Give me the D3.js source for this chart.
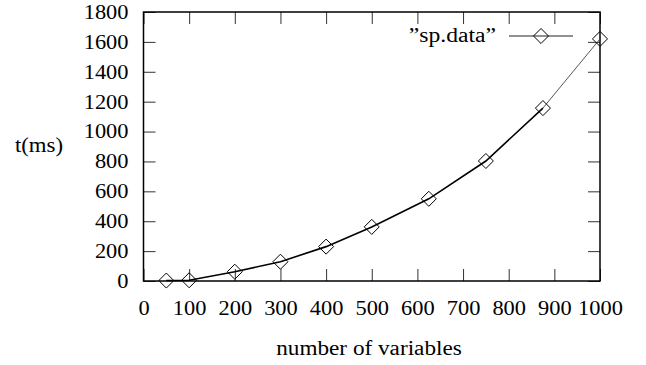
<!DOCTYPE html>
<meta charset="utf-8">
<title>sp.data timing</title>
<script src="https://d3js.org/d3.v7.min.js"></script>
<style>
  body { margin: 0; background: #fff; }
  svg text { font-family: "Liberation Serif", "Times New Roman", serif; fill: #000; }
</style>
<body>
<svg id="chart" width="646" height="365"></svg>
<script>
// values
const numVars = [50, 100, 200, 300, 400, 500, 625, 750, 875, 1000]
const timeMs = [3, 5, 62, 129, 230, 362, 550, 803, 1157, 1620]
const xTicks = [0, 100, 200, 300, 400, 500, 600, 700, 800, 900, 1000]
const yTicks = [0, 200, 400, 600, 800, 1000, 1200, 1400, 1600, 1800]
const seriesName = "\u201dsp.data\u201d"

const svg = d3.select("#chart")
const plotLeft = 143.5, plotRight = 600, plotTop = 12, plotBottom = 281
const fontSize = 20
const widen = 1.12   // the original text is a bit wider than Times

const x = d3.scaleLinear().domain([0, 1000]).range([plotLeft, plotRight])
const y = d3.scaleLinear().domain([0, 1800]).range([plotBottom, plotTop])

const data = numVars.map((v, i) => ({ n: v, t: timeMs[i] }))

function stretch(sel, k) {
    sel.each(function () {
        let w = this.getComputedTextLength()
        d3.select(this).attr("textLength", w * (k || widen)).attr("lengthAdjust", "spacingAndGlyphs")
    })
}

function styleAxis(g, labels) {
    g.attr("font-family", "Liberation Serif").attr("font-size", fontSize)
    g.select(".domain").remove()
    g.selectAll(".tick line").attr("stroke", "#333").attr("stroke-width", 1)
    if (!labels) g.selectAll("text").remove()
    else stretch(g.selectAll("text"))
}

// bottom and top
svg.append("g").attr("transform", `translate(0,${plotBottom})`)
    .call(d3.axisBottom(x).tickValues(xTicks).tickFormat(d3.format("d")).tickSize(-12).tickPadding(20))
    .call(g => styleAxis(g, true))
svg.append("g").attr("transform", `translate(0,${plotTop})`)
    .call(d3.axisTop(x).tickValues(xTicks).tickSize(-12))
    .call(g => styleAxis(g, false))

// left and right
svg.append("g").attr("transform", `translate(${plotLeft},0)`)
    .call(d3.axisLeft(y).tickValues(yTicks).tickFormat(d3.format("d")).tickSize(-12).tickPadding(15))
    .call(g => styleAxis(g, true))
svg.append("g").attr("transform", `translate(${plotRight},0)`)
    .call(d3.axisRight(y).tickValues(yTicks).tickSize(-12))
    .call(g => styleAxis(g, false))

// frame
svg.append("rect")
    .attr("x", plotLeft).attr("y", plotTop)
    .attr("width", plotRight - plotLeft).attr("height", plotBottom - plotTop)
    .attr("fill", "none").attr("stroke", "#000").attr("stroke-width", 1.5)

// the line
let line = d3.line().x(d => x(d.n)).y(d => y(d.t))
svg.append("path").datum(data.slice(0, -1))
    .attr("d", line).attr("fill", "none")
    .attr("stroke", "#000").attr("stroke-width", 1.6)
svg.append("path").datum(data.slice(-2))
    .attr("d", line).attr("fill", "none")
    .attr("stroke", "#444").attr("stroke-width", 0.9)

let diamond = d3.symbol(d3.symbolDiamond2, 144)
svg.selectAll(".pt").data(data).enter()
    .append("path").attr("class", "pt")
    .attr("d", diamond)
    .attr("transform", d => `translate(${x(d.n)},${y(d.t)})`)
    .attr("fill", "none").attr("stroke", "#000").attr("stroke-width", 1)

// legend
let legY = 36
svg.append("text")
    .attr("x", 496).attr("y", legY).attr("dy", "0.32em")
    .attr("text-anchor", "end").attr("font-size", fontSize)
    .text(seriesName).call(stretch, 1.18)
svg.append("line")
    .attr("x1", 509).attr("x2", 573).attr("y1", legY).attr("y2", legY)
    .attr("stroke", "#222").attr("stroke-width", 1)
svg.append("path").attr("d", diamond)
    .attr("transform", `translate(541,${legY})`)
    .attr("fill", "none").attr("stroke", "#000").attr("stroke-width", 1)

// axis titles
svg.append("text")
    .attr("x", 39).attr("y", 152).attr("text-anchor", "middle")
    .attr("font-size", fontSize).text("t(ms)").call(stretch, 1.14)
svg.append("text")
    .attr("x", 369).attr("y", 355).attr("text-anchor", "middle")
    .attr("font-size", fontSize).text("number of variables").call(stretch, 1.16)
</script>
</body>
